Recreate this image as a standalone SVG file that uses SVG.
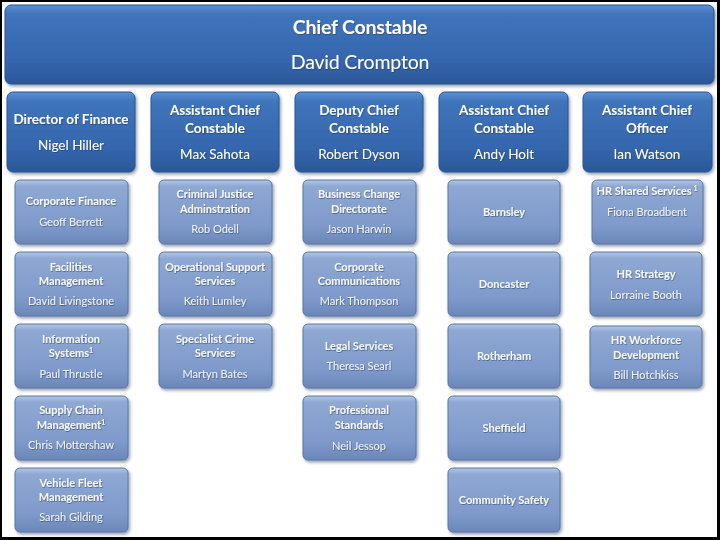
<svg xmlns="http://www.w3.org/2000/svg" width="720" height="540" viewBox="0 0 720 540">
<style>
text{font-family:Lato,"Open Sans","Liberation Sans",sans-serif;fill:#ffffff;text-anchor:middle}
.h{font-size:19.5px;letter-spacing:-0.2px}
.t2{font-size:13.5px;font-weight:bold}
.n2{font-size:13.5px}
.t3{font-size:11px;font-weight:bold;fill:#f6f8fc}
.n3{font-size:11px;fill:#f0f3f9}
.hdr{fill:url(#gTop);stroke:#2a5590;stroke-width:1}
.sub{fill:url(#gSub);stroke:#5a76a6;stroke-width:1}
</style>
<defs>
<linearGradient id="gTop" x1="0" y1="0" x2="0" y2="1">
<stop offset="0" stop-color="#5b8fd4"/>
<stop offset="0.12" stop-color="#3f74bc"/>
<stop offset="0.7" stop-color="#3466ad"/>
<stop offset="1" stop-color="#2b5798"/>
</linearGradient>
<linearGradient id="gSub" x1="0" y1="0" x2="0" y2="1">
<stop offset="0" stop-color="#b3c6e6"/>
<stop offset="0.1" stop-color="#8fa8d3"/>
<stop offset="0.7" stop-color="#7f9acb"/>
<stop offset="1" stop-color="#6b87ba"/>
</linearGradient>
<filter id="sh" x="-10%" y="-10%" width="125%" height="130%">
<feDropShadow dx="1.5" dy="2" stdDeviation="1.5" flood-color="#1c2c48" flood-opacity="0.45"/>
</filter>
<filter id="ts" x="-5%" y="-20%" width="110%" height="150%">
<feDropShadow dx="0.6" dy="0.8" stdDeviation="0.5" flood-color="#20304c" flood-opacity="0.6"/>
</filter>
</defs>
<rect x="0" y="0" width="720" height="540" fill="#000"/>
<rect x="2" y="2" width="715" height="535" fill="#ffffff"/>

<g id="connectors"></g>

<g id="chief" filter="url(#sh)">
<rect class="hdr" x="5" y="5" width="709" height="79" rx="6"/>
<g filter="url(#ts)">
<text class="h" x="360" y="34" font-weight="bold">Chief Constable</text>
<text class="h" x="360" y="69">David Crompton</text>
</g>
</g>

<g id="dof" filter="url(#sh)">
<rect class="hdr" x="7" y="92" width="128" height="80" rx="6"/>
<g filter="url(#ts)"><text class="t2" x="71" y="124">Director of Finance</text>
<text class="n2" x="71" y="150">Nigel Hiller</text></g>
</g>
<g id="acc1" filter="url(#sh)">
<rect class="hdr" x="151" y="92" width="128" height="80" rx="6"/>
<g filter="url(#ts)"><text class="t2" x="215" y="115">Assistant Chief</text>
<text class="t2" x="215" y="133">Constable</text>
<text class="n2" x="215" y="159">Max Sahota</text></g>
</g>
<g id="dcc" filter="url(#sh)">
<rect class="hdr" x="295" y="92" width="128" height="80" rx="6"/>
<g filter="url(#ts)"><text class="t2" x="359" y="115">Deputy Chief</text>
<text class="t2" x="359" y="133">Constable</text>
<text class="n2" x="359" y="159">Robert Dyson</text></g>
</g>
<g id="acc2" filter="url(#sh)">
<rect class="hdr" x="439" y="92" width="129" height="80" rx="6"/>
<g filter="url(#ts)"><text class="t2" x="504" y="115">Assistant Chief</text>
<text class="t2" x="504" y="133">Constable</text>
<text class="n2" x="504" y="159">Andy Holt</text></g>
</g>
<g id="aco" filter="url(#sh)">
<rect class="hdr" x="583" y="92" width="129" height="80" rx="6"/>
<g filter="url(#ts)"><text class="t2" x="647" y="115">Assistant Chief</text>
<text class="t2" x="647" y="133">Officer</text>
<text class="n2" x="647" y="159">Ian Watson</text></g>
</g>

<!-- column 1 -->
<g id="corpfin" filter="url(#sh)">
<rect class="sub" x="15" y="180" width="113" height="64" rx="5"/>
<g filter="url(#ts)"><text class="t3" x="71" y="205">Corporate Finance</text>
<text class="n3" x="71" y="226">Geoff Berrett</text></g>
</g>
<g id="facilities" filter="url(#sh)">
<rect class="sub" x="15" y="252" width="113" height="64" rx="5"/>
<g filter="url(#ts)"><text class="t3" x="71" y="271">Facilities</text>
<text class="t3" x="71" y="285">Management</text>
<text class="n3" x="71" y="305">David Livingstone</text></g>
</g>
<g id="infosys" filter="url(#sh)">
<rect class="sub" x="15" y="324" width="113" height="64" rx="5"/>
<g filter="url(#ts)"><text class="t3" x="71" y="343">Information</text>
<text class="t3" x="71" y="357">Systems<tspan font-size="7" dy="-4">1</tspan></text>
<text class="n3" x="71" y="378">Paul Thrustle</text></g>
</g>
<g id="supply" filter="url(#sh)">
<rect class="sub" x="15" y="396" width="113" height="64" rx="5"/>
<g filter="url(#ts)"><text class="t3" x="71" y="414">Supply Chain</text>
<text class="t3" x="71" y="429">Management<tspan font-size="7" dy="-4">1</tspan></text>
<text class="n3" x="71" y="449">Chris Mottershaw</text></g>
</g>
<g id="fleet" filter="url(#sh)">
<rect class="sub" x="15" y="468" width="113" height="64" rx="5"/>
<g filter="url(#ts)"><text class="t3" x="71" y="487">Vehicle Fleet</text>
<text class="t3" x="71" y="501">Management</text>
<text class="n3" x="71" y="521">Sarah Gilding</text></g>
</g>

<!-- column 2 -->
<g id="cja" filter="url(#sh)">
<rect class="sub" x="159" y="180" width="113" height="64" rx="5"/>
<g filter="url(#ts)"><text class="t3" x="215" y="198">Criminal Justice</text>
<text class="t3" x="215" y="213">Adminstration</text>
<text class="n3" x="215" y="233">Rob Odell</text></g>
</g>
<g id="oss" filter="url(#sh)">
<rect class="sub" x="159" y="252" width="113" height="64" rx="5"/>
<g filter="url(#ts)"><text class="t3" x="215" y="271">Operational Support</text>
<text class="t3" x="215" y="285">Services</text>
<text class="n3" x="215" y="305">Keith Lumley</text></g>
</g>
<g id="scs" filter="url(#sh)">
<rect class="sub" x="159" y="324" width="113" height="64" rx="5"/>
<g filter="url(#ts)"><text class="t3" x="215" y="343">Specialist Crime</text>
<text class="t3" x="215" y="357">Services</text>
<text class="n3" x="215" y="378">Martyn Bates</text></g>
</g>

<!-- column 3 -->
<g id="bcd" filter="url(#sh)">
<rect class="sub" x="303" y="180" width="113" height="64" rx="5"/>
<g filter="url(#ts)"><text class="t3" x="359" y="198">Business Change</text>
<text class="t3" x="359" y="213">Directorate</text>
<text class="n3" x="359" y="233">Jason Harwin</text></g>
</g>
<g id="corpcomm" filter="url(#sh)">
<rect class="sub" x="303" y="252" width="113" height="64" rx="5"/>
<g filter="url(#ts)"><text class="t3" x="359" y="271">Corporate</text>
<text class="t3" x="359" y="285">Communications</text>
<text class="n3" x="359" y="305">Mark Thompson</text></g>
</g>
<g id="legal" filter="url(#sh)">
<rect class="sub" x="303" y="324" width="113" height="64" rx="5"/>
<g filter="url(#ts)"><text class="t3" x="359" y="350">Legal Services</text>
<text class="n3" x="359" y="370">Theresa Searl</text></g>
</g>
<g id="profstd" filter="url(#sh)">
<rect class="sub" x="303" y="396" width="113" height="64" rx="5"/>
<g filter="url(#ts)"><text class="t3" x="359" y="414">Professional</text>
<text class="t3" x="359" y="429">Standards</text>
<text class="n3" x="359" y="450">Neil Jessop</text></g>
</g>

<!-- column 4 -->
<g id="barnsley" filter="url(#sh)">
<rect class="sub" x="448" y="180" width="112" height="64" rx="5"/>
<g filter="url(#ts)"><text class="t3" x="504" y="216">Barnsley</text></g>
</g>
<g id="doncaster" filter="url(#sh)">
<rect class="sub" x="448" y="252" width="112" height="64" rx="5"/>
<g filter="url(#ts)"><text class="t3" x="504" y="288">Doncaster</text></g>
</g>
<g id="rotherham" filter="url(#sh)">
<rect class="sub" x="448" y="324" width="112" height="64" rx="5"/>
<g filter="url(#ts)"><text class="t3" x="504" y="360">Rotherham</text></g>
</g>
<g id="sheffield" filter="url(#sh)">
<rect class="sub" x="448" y="396" width="112" height="64" rx="5"/>
<g filter="url(#ts)"><text class="t3" x="504" y="432">Sheffield</text></g>
</g>
<g id="community" filter="url(#sh)">
<rect class="sub" x="448" y="468" width="112" height="64" rx="5"/>
<g filter="url(#ts)"><text class="t3" x="504" y="504">Community Safety</text></g>
</g>

<!-- column 5 -->
<g id="hrshared" filter="url(#sh)">
<rect class="sub" x="592" y="180" width="111" height="64" rx="5"/>
<g filter="url(#ts)"><text class="t3" x="647" y="195">HR Shared Services<tspan font-size="7" dy="-4"> 1</tspan></text>
<text class="n3" x="647" y="216">Fiona Broadbent</text></g>
</g>
<g id="hrstrategy" filter="url(#sh)">
<rect class="sub" x="590" y="252" width="112" height="64" rx="5"/>
<g filter="url(#ts)"><text class="t3" x="646" y="278">HR Strategy</text>
<text class="n3" x="646" y="299">Lorraine Booth</text></g>
</g>
<g id="hrworkforce" filter="url(#sh)">
<rect class="sub" x="590" y="326" width="112" height="62" rx="5"/>
<g filter="url(#ts)"><text class="t3" x="646" y="344">HR Workforce</text>
<text class="t3" x="646" y="359">Development</text>
<text class="n3" x="646" y="379">Bill Hotchkiss</text></g>
</g>
</svg>
